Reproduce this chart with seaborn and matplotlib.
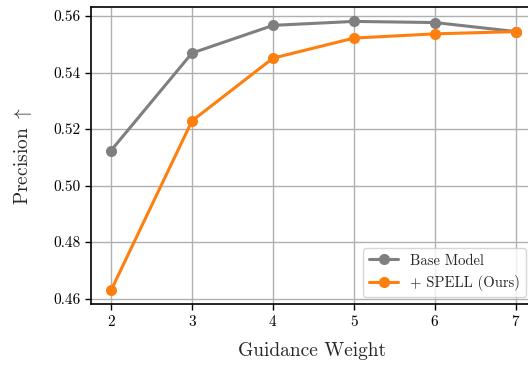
import matplotlib
matplotlib.use("Agg")
import matplotlib.pyplot as plt
import seaborn as sns
import pandas as pd

weights = [2, 3, 4, 5, 6, 7]
base_model = [0.5124, 0.5469, 0.5567, 0.5581, 0.5577, 0.5545]
spell = [0.4629, 0.5229, 0.5451, 0.5522, 0.5537, 0.5545]
series_names = ["Base Model", "+ SPELL (Ours)"]
colors = ["#7f7f7f", "#ff7f0e"]

df = pd.DataFrame({
    "Guidance Weight": weights * 2,
    "Precision": base_model + spell,
    "Method": [series_names[0]] * len(weights) + [series_names[1]] * len(weights),
})

sns.set_theme(style="ticks")
plt.rcParams["font.family"] = ["cmr10", "DejaVu Serif"]
plt.rcParams["mathtext.fontset"] = "cm"
plt.rcParams["axes.formatter.use_mathtext"] = True

fig = plt.figure(figsize=(5.28, 3.67), dpi=100)
ax = fig.add_axes([91 / 528, 1 - 304 / 367, (533 - 91) / 528, (304 - 7) / 367])

sns.lineplot(data=df, x="Guidance Weight", y="Precision", hue="Method",
             palette=colors, marker="o", markersize=8, markeredgewidth=0,
             linewidth=2.2, ax=ax)

ax.set_xlim(1.753, 7.21)
ax.set_ylim(0.4581, 0.5632)
ax.set_xticks(weights)
ax.set_yticks([0.46, 0.48, 0.50, 0.52, 0.54, 0.56])
ax.set_yticklabels(["0.46", "0.48", "0.50", "0.52", "0.54", "0.56"])
ax.grid(True, color="#b0b0b0", linewidth=1)
ax.set_axisbelow(True)
ax.tick_params(axis="both", labelsize=11, length=4, width=1, colors="black", direction="out")
ax.set_xlabel("Guidance Weight", fontsize=14, labelpad=9)
ax.set_ylabel(r"Precision $\uparrow$", fontsize=14, labelpad=14)
for s in ax.spines.values():
    s.set_color("black")
    s.set_linewidth(1.2)

leg = ax.legend(loc="lower right", fontsize=10.5, frameon=True, framealpha=0.8,
                edgecolor="#cccccc", borderaxespad=0.5, handlelength=2.0)
leg.get_frame().set_linewidth(1)

fig.savefig("out.png", dpi=100)
